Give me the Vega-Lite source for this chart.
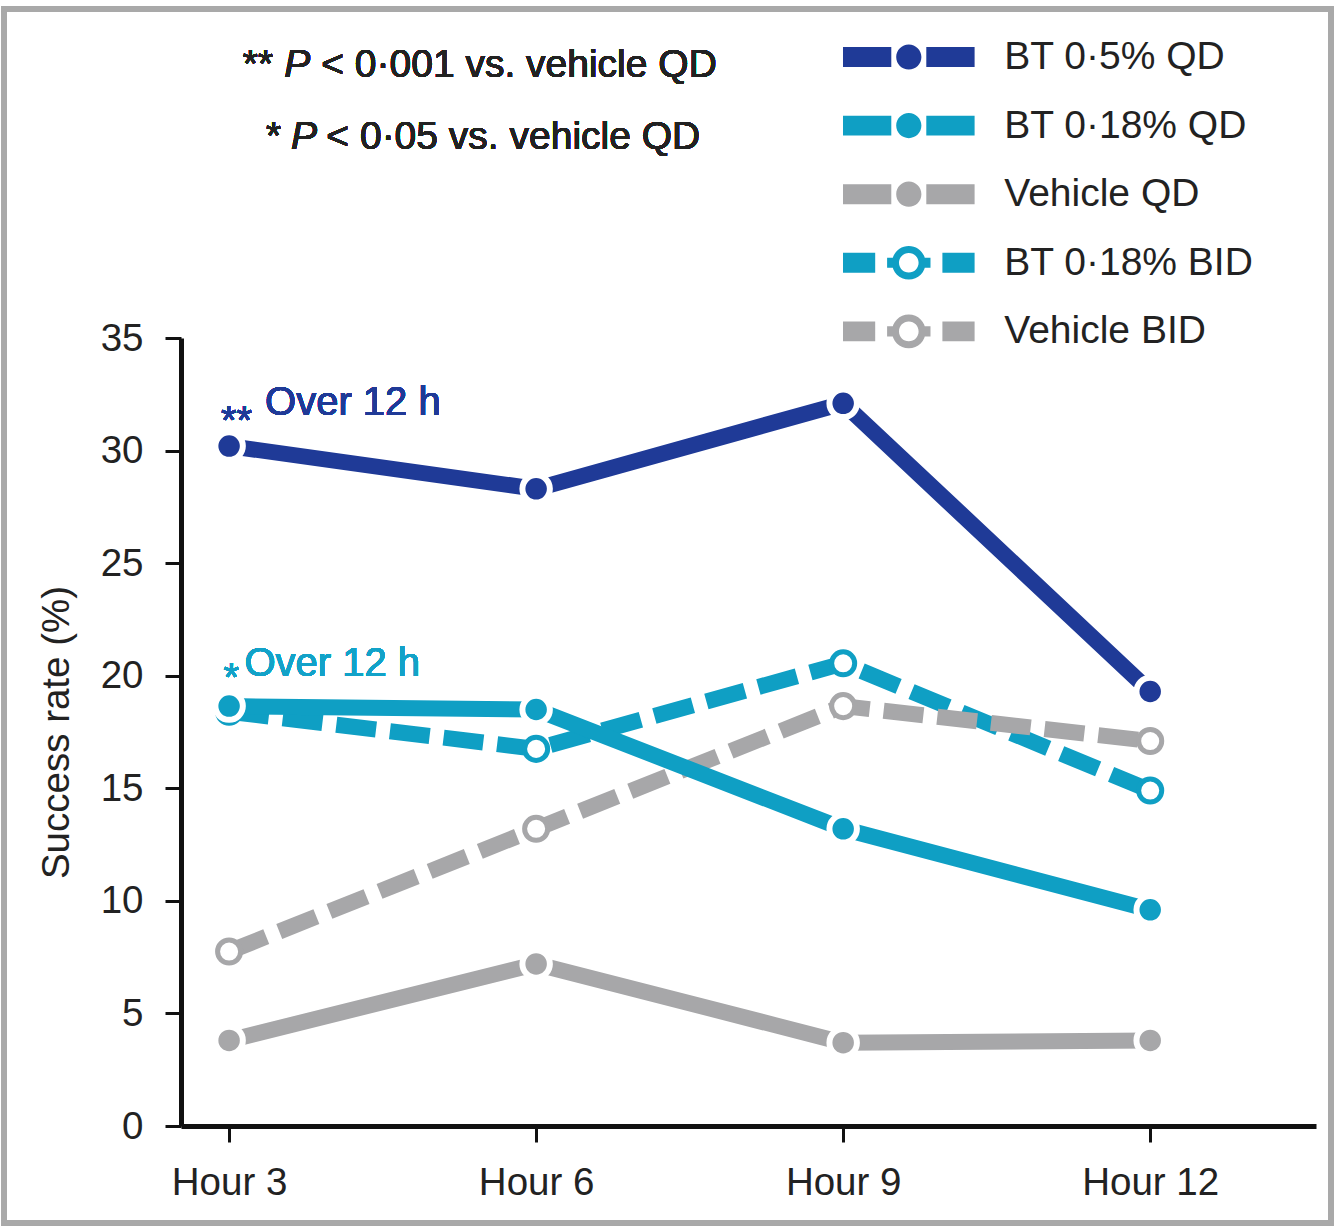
{
  "$schema": "https://vega.github.io/schema/vega-lite/v6.json",
  "width": 1135,
  "height": 788,
  "autosize": {"type": "none"},
  "padding": {"left": 181, "top": 338, "right": 21, "bottom": 102},
  "background": "white",
  "config": {
    "view": {"stroke": null},
    "font": "Liberation Sans",
    "axis": {"grid": false, "labelFont": "Liberation Sans", "titleFont": "Liberation Sans"}
  },
  "data": {
    "values": [
      {"series": "BT 0·5% QD", "hour": 3, "rate": 30.2},
      {"series": "BT 0·5% QD", "hour": 6, "rate": 28.3},
      {"series": "BT 0·5% QD", "hour": 9, "rate": 32.1},
      {"series": "BT 0·5% QD", "hour": 12, "rate": 19.3},
      {"series": "BT 0·18% QD", "hour": 3, "rate": 18.65},
      {"series": "BT 0·18% QD", "hour": 6, "rate": 18.5},
      {"series": "BT 0·18% QD", "hour": 9, "rate": 13.2},
      {"series": "BT 0·18% QD", "hour": 12, "rate": 9.6},
      {"series": "Vehicle QD", "hour": 3, "rate": 3.8},
      {"series": "Vehicle QD", "hour": 6, "rate": 7.2},
      {"series": "Vehicle QD", "hour": 9, "rate": 3.7},
      {"series": "Vehicle QD", "hour": 12, "rate": 3.8},
      {"series": "BT 0·18% BID", "hour": 3, "rate": 18.4},
      {"series": "BT 0·18% BID", "hour": 6, "rate": 16.75},
      {"series": "BT 0·18% BID", "hour": 9, "rate": 20.55},
      {"series": "BT 0·18% BID", "hour": 12, "rate": 14.9},
      {"series": "Vehicle BID", "hour": 3, "rate": 7.75},
      {"series": "Vehicle BID", "hour": 6, "rate": 13.2},
      {"series": "Vehicle BID", "hour": 9, "rate": 18.65},
      {"series": "Vehicle BID", "hour": 12, "rate": 17.1}
    ]
  },
  "encoding": {
    "x": {
      "field": "hour", "type": "quantitative",
      "scale": {"domain": [2.53, 13.62], "nice": false, "zero": false},
      "axis": {
        "title": null, "values": [3, 6, 9, 12], "labelExpr": "'Hour ' + datum.value",
        "tickSize": 16, "tickWidth": 3, "tickColor": "#111", "domainColor": "#111", "domainWidth": 5,
        "labelFontSize": 38.5, "labelColor": "#222", "labelPadding": 22, "labelFlush": false
      }
    },
    "y": {
      "field": "rate", "type": "quantitative",
      "scale": {"domain": [0, 35], "nice": false, "zero": false},
      "axis": {
        "title": "Success rate (%)", "values": [0, 5, 10, 15, 20, 25, 30, 35],
        "tickSize": 16, "tickWidth": 3, "tickColor": "#111", "domainColor": "#111", "domainWidth": 5,
        "labelFontSize": 38.5, "labelColor": "#222", "labelPadding": 22,
        "titleFontSize": 38.5, "titleFontWeight": "normal", "titleColor": "#222", "titlePadding": 24
      }
    }
  },
  "layer": [
    {
      "mark": {"type": "rect", "filled": false, "color": "#a9a9a9", "strokeWidth": 5, "clip": false},
      "encoding": {
        "x": {"datum": 0.8, "type": "quantitative", "scale": {"domain": [2.53, 13.62], "nice": false, "zero": false}},
        "x2": {"datum": 13.77},
        "y": {"datum": 49.6, "type": "quantitative", "scale": {"domain": [0, 35], "nice": false, "zero": false}},
        "y2": {"datum": -4.3}
      }
    },
    {"transform": [{"filter": {"field": "series", "equal": "Vehicle QD"}}],
     "mark": {"type": "line", "color": "#a7a7a9", "strokeWidth": 16, "strokeCap": "butt"}},
    {"transform": [{"filter": {"field": "series", "equal": "BT 0·18% BID"}}],
     "mark": {"type": "line", "color": "#0f9fc4", "strokeWidth": 16, "strokeCap": "butt", "strokeDash": [40, 14]}},
    {"transform": [{"filter": {"field": "series", "equal": "Vehicle BID"}}],
     "mark": {"type": "line", "color": "#a7a7a9", "strokeWidth": 16, "strokeCap": "butt", "strokeDash": [40, 14]}},
    {"transform": [{"filter": {"field": "series", "equal": "BT 0·18% QD"}}],
     "mark": {"type": "line", "color": "#0f9fc4", "strokeWidth": 16, "strokeCap": "butt"}},
    {"transform": [{"filter": {"field": "series", "equal": "BT 0·5% QD"}}],
     "mark": {"type": "line", "color": "#1f3a97", "strokeWidth": 16, "strokeCap": "butt"}},
    {"transform": [{"filter": {"field": "series", "equal": "Vehicle QD"}}],
     "mark": {"type": "point", "shape": "circle", "filled": true, "fill": "#a7a7a9", "stroke": "white", "strokeWidth": 6, "size": 755, "opacity": 1}},
    {"transform": [{"filter": {"field": "series", "equal": "BT 0·18% BID"}}],
     "mark": {"type": "point", "shape": "circle", "filled": true, "fill": "white", "stroke": "#0f9fc4", "strokeWidth": 5, "size": 531, "opacity": 1}},
    {"transform": [{"filter": {"field": "series", "equal": "Vehicle BID"}}],
     "mark": {"type": "point", "shape": "circle", "filled": true, "fill": "white", "stroke": "#a7a7a9", "strokeWidth": 5, "size": 531, "opacity": 1}},
    {"transform": [{"filter": {"field": "series", "equal": "BT 0·18% QD"}}],
     "mark": {"type": "point", "shape": "circle", "filled": true, "fill": "#0f9fc4", "stroke": "white", "strokeWidth": 6, "size": 755, "opacity": 1}},
    {"transform": [{"filter": {"field": "series", "equal": "BT 0·5% QD"}}],
     "mark": {"type": "point", "shape": "circle", "filled": true, "fill": "#1f3a97", "stroke": "white", "strokeWidth": 6, "size": 755, "opacity": 1}},
    {
      "transform": [{"filter": "false"}],
      "mark": {"type": "point", "filled": true, "opacity": 1},
      "encoding": {
        "color": {
          "field": "series", "type": "nominal",
          "scale": {
            "domain": ["BT 0·5% QD", "BT 0·18% QD", "Vehicle QD", "BT 0·18% BID", "Vehicle BID"],
            "range": ["#1f3a97", "#0f9fc4", "#a7a7a9", "#0f9fc4", "#a7a7a9"]
          },
          "legend": {
            "title": null, "orient": "none", "legendX": 662, "legendY": -300.5,
            "labelFontSize": 39, "labelColor": "#222", "labelFont": "Liberation Sans", "labelLimit": 500,
            "symbolSize": 784, "symbolStrokeWidth": 0, "symbolOpacity": 1, "symbolOffset": 46.3,
            "labelOffset": 76, "rowPadding": 28.6, "padding": 0
          }
        },
        "shape": {
          "field": "series", "type": "nominal",
          "scale": {
            "domain": ["BT 0·5% QD", "BT 0·18% QD", "Vehicle QD", "BT 0·18% BID", "Vehicle BID"],
            "range": [
              "M -4.7 -0.71 L -1.25 -0.71 L -1.25 0.71 L -4.7 0.71 Z M 1.25 -0.71 L 4.7 -0.71 L 4.7 0.71 L 1.25 0.71 Z M -0.9 0 A 0.9 0.9 0 1 0 0.9 0 A 0.9 0.9 0 1 0 -0.9 0 Z",
              "M -4.7 -0.71 L -1.25 -0.71 L -1.25 0.71 L -4.7 0.71 Z M 1.25 -0.71 L 4.7 -0.71 L 4.7 0.71 L 1.25 0.71 Z M -0.9 0 A 0.9 0.9 0 1 0 0.9 0 A 0.9 0.9 0 1 0 -0.9 0 Z",
              "M -4.7 -0.71 L -1.25 -0.71 L -1.25 0.71 L -4.7 0.71 Z M 1.25 -0.71 L 4.7 -0.71 L 4.7 0.71 L 1.25 0.71 Z M -0.9 0 A 0.9 0.9 0 1 0 0.9 0 A 0.9 0.9 0 1 0 -0.9 0 Z",
              "M -4.7 -0.71 L -2.4 -0.71 L -2.4 0.71 L -4.7 0.71 Z M 2.4 -0.71 L 4.7 -0.71 L 4.7 0.71 L 2.4 0.71 Z M -1.2 0 A 1.2 1.2 0 1 0 1.2 0 A 1.2 1.2 0 1 0 -1.2 0 Z M -0.7 0 A 0.7 0.7 0 1 1 0.7 0 A 0.7 0.7 0 1 1 -0.7 0 Z M -1.55 -0.36 L -1.55 0.36 L -1.05 0.36 L -1.05 -0.36 Z M 1.05 -0.36 L 1.05 0.36 L 1.55 0.36 L 1.55 -0.36 Z",
              "M -4.7 -0.71 L -2.4 -0.71 L -2.4 0.71 L -4.7 0.71 Z M 2.4 -0.71 L 4.7 -0.71 L 4.7 0.71 L 2.4 0.71 Z M -1.2 0 A 1.2 1.2 0 1 0 1.2 0 A 1.2 1.2 0 1 0 -1.2 0 Z M -0.7 0 A 0.7 0.7 0 1 1 0.7 0 A 0.7 0.7 0 1 1 -0.7 0 Z M -1.55 -0.36 L -1.55 0.36 L -1.05 0.36 L -1.05 -0.36 Z M 1.05 -0.36 L 1.05 0.36 L 1.55 0.36 L 1.55 -0.36 Z"
            ]
          },
          "legend": {
            "title": null, "orient": "none", "legendX": 662, "legendY": -300.5,
            "labelFontSize": 39, "labelColor": "#222", "labelFont": "Liberation Sans", "labelLimit": 500,
            "symbolSize": 784, "symbolStrokeWidth": 0, "symbolOpacity": 1, "symbolOffset": 46.3,
            "labelOffset": 76, "rowPadding": 28.6, "padding": 0
          }
        }
      }
    },
    {
      "mark": {"type": "text", "align": "right", "baseline": "middle", "fontSize": 39, "color": "#222"},
      "encoding": {
        "x": {"datum": 3.43, "type": "quantitative", "scale": {"domain": [2.53, 13.62], "nice": false, "zero": false}},
        "y": {"datum": 47.13, "type": "quantitative", "scale": {"domain": [0, 35], "nice": false, "zero": false}},
        "text": {"value": "**"}
      }
    },
    {
      "mark": {"type": "text", "align": "left", "baseline": "middle", "fontSize": 39, "fontStyle": "italic", "color": "#222"},
      "encoding": {
        "x": {"datum": 3.54, "type": "quantitative", "scale": {"domain": [2.53, 13.62], "nice": false, "zero": false}},
        "y": {"datum": 47.13, "type": "quantitative", "scale": {"domain": [0, 35], "nice": false, "zero": false}},
        "text": {"value": "P"}
      }
    },
    {
      "mark": {"type": "text", "align": "left", "baseline": "middle", "fontSize": 39, "color": "#222"},
      "encoding": {
        "x": {"datum": 3.9, "type": "quantitative", "scale": {"domain": [2.53, 13.62], "nice": false, "zero": false}},
        "y": {"datum": 47.13, "type": "quantitative", "scale": {"domain": [0, 35], "nice": false, "zero": false}},
        "text": {"value": "< 0·001 vs. vehicle QD"}
      }
    },
    {
      "mark": {"type": "text", "align": "right", "baseline": "middle", "fontSize": 39, "color": "#222"},
      "encoding": {
        "x": {"datum": 3.51, "type": "quantitative", "scale": {"domain": [2.53, 13.62], "nice": false, "zero": false}},
        "y": {"datum": 43.93, "type": "quantitative", "scale": {"domain": [0, 35], "nice": false, "zero": false}},
        "text": {"value": "*"}
      }
    },
    {
      "mark": {"type": "text", "align": "left", "baseline": "middle", "fontSize": 39, "fontStyle": "italic", "color": "#222"},
      "encoding": {
        "x": {"datum": 3.605, "type": "quantitative", "scale": {"domain": [2.53, 13.62], "nice": false, "zero": false}},
        "y": {"datum": 43.93, "type": "quantitative", "scale": {"domain": [0, 35], "nice": false, "zero": false}},
        "text": {"value": "P"}
      }
    },
    {
      "mark": {"type": "text", "align": "left", "baseline": "middle", "fontSize": 39, "color": "#222"},
      "encoding": {
        "x": {"datum": 3.95, "type": "quantitative", "scale": {"domain": [2.53, 13.62], "nice": false, "zero": false}},
        "y": {"datum": 43.93, "type": "quantitative", "scale": {"domain": [0, 35], "nice": false, "zero": false}},
        "text": {"value": "< 0·05 vs. vehicle QD"}
      }
    },
    {
      "mark": {"type": "text", "align": "right", "baseline": "alphabetic", "fontSize": 40, "color": "#1f3a97"},
      "encoding": {
        "x": {"datum": 3.224, "type": "quantitative", "scale": {"domain": [2.53, 13.62], "nice": false, "zero": false}},
        "y": {"datum": 30.74, "type": "quantitative", "scale": {"domain": [0, 35], "nice": false, "zero": false}},
        "text": {"value": "**"}
      }
    },
    {
      "mark": {"type": "text", "align": "left", "baseline": "middle", "fontSize": 40, "color": "#1f3a97"},
      "encoding": {
        "x": {"datum": 3.351, "type": "quantitative", "scale": {"domain": [2.53, 13.62], "nice": false, "zero": false}},
        "y": {"datum": 32.11, "type": "quantitative", "scale": {"domain": [0, 35], "nice": false, "zero": false}},
        "text": {"value": "Over 12 h"}
      }
    },
    {
      "mark": {"type": "text", "align": "right", "baseline": "alphabetic", "fontSize": 40, "color": "#12a2c8"},
      "encoding": {
        "x": {"datum": 3.097, "type": "quantitative", "scale": {"domain": [2.53, 13.62], "nice": false, "zero": false}},
        "y": {"datum": 19.32, "type": "quantitative", "scale": {"domain": [0, 35], "nice": false, "zero": false}},
        "text": {"value": "*"}
      }
    },
    {
      "mark": {"type": "text", "align": "left", "baseline": "middle", "fontSize": 40, "color": "#12a2c8"},
      "encoding": {
        "x": {"datum": 3.15, "type": "quantitative", "scale": {"domain": [2.53, 13.62], "nice": false, "zero": false}},
        "y": {"datum": 20.52, "type": "quantitative", "scale": {"domain": [0, 35], "nice": false, "zero": false}},
        "text": {"value": "Over 12 h"}
      }
    }
  ]
}
